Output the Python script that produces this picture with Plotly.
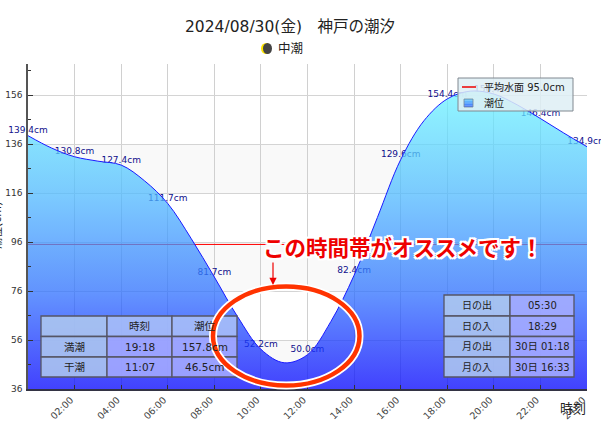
import plotly.graph_objects as go

title_text = "2024/08/30(金)　神戸の潮汐"
tide_name = "中潮"
hours = list(range(25))
tide = [139.4, 134.4, 130.8, 129.0, 127.4, 121.0, 111.7, 97.5, 81.7, 65.5, 52.2, 46.7, 50.0,
        63.5, 82.4, 106.0, 129.6, 145.5, 154.4, 157.6, 156.4, 152.0, 146.4, 140.5, 134.9]
label_hours = [0, 2, 4, 6, 8, 10, 12, 14, 16, 18, 20, 22, 24]
label_values = [139.4, 130.8, 127.4, 111.7, 81.7, 52.2, 50.0, 82.4, 129.6, 154.4, 156.4, 146.4, 134.9]
tick_hours = [2, 4, 6, 8, 10, 12, 14, 16, 18, 20, 22, 24]
tick_labels = ["02:00", "04:00", "06:00", "08:00", "10:00", "12:00", "14:00", "16:00", "18:00", "20:00", "22:00", "24:00"]
mean_level = 95.0
tide_table = [["", "時刻", "潮位"], ["満潮", "19:18", "157.8cm"], ["干潮", "11:07", "46.5cm"]]
sun_moon_table = [["日の出", "05:30"], ["日の入", "18:29"], ["月の出", "30日 01:18"], ["月の入", "30日 16:33"]]
band_ranges = [(116, 136), (76, 96), (36, 56)]
swatch_colors = ["#66c8ff", "#5cb4ff", "#52a0ff", "#4a8cff", "#4478ff"]

W, H = 601, 427
L, R, T, B = 28, 587, 64, 389
FONT = "DejaVu Sans, Noto Sans CJK JP, sans-serif"
def px(x): return (x - L) / (R - L)
def py(y): return (B - y) / (B - T)

shapes, annos = [], []
for lo, hi in band_ranges:
    shapes.append(dict(type="rect", xref="x", yref="y", x0=0, x1=24, y0=lo, y1=hi,
                       fillcolor="#f9f9f9", line_width=0, layer="below"))

def pxrect(x0, x1, y0, y1, fill, line="#555566", w=1.3, kind="rect"):
    shapes.append(dict(type=kind, xref="paper", yref="paper", x0=px(x0), x1=px(x1), y0=py(y1), y1=py(y0),
                       fillcolor=fill, line=dict(color=line, width=w), layer="above"))

def text(x, y, s, size=11, color="#222222", anchor="center", **kw):
    annos.append(dict(xref="paper", yref="paper", x=px(x), y=py(y), text=s, showarrow=False,
                      font=dict(size=size, color=color, family=FONT), xanchor=anchor, yanchor="middle", **kw))

def table(rows, xs, ys, size, header):
    for r, row in enumerate(rows):
        for c, s in enumerate(row):
            if c == 0:
                fill = "rgba(176,202,238,0.85)"
            elif header and r == 0:
                fill = "rgba(172,194,248,0.85)"
            else:
                fill = "rgba(168,174,255,0.85)"
            pxrect(xs[c], xs[c + 1], ys[r], ys[r + 1], fill)
            text((xs[c] + xs[c + 1]) / 2, (ys[r] + ys[r + 1]) / 2, s, size=size)

table(tide_table, [41, 107, 172, 237], [316, 336.5, 357, 377], 10.5, True)
table(sun_moon_table, [444, 510, 574], [295, 316, 336.5, 357, 377], 10, False)

# highlight ring and moon icon
pxrect(213, 359.5, 286.5, 385.5, "rgba(0,0,0,0)", "#ffffff", 8, "circle")
pxrect(213, 359.5, 286.5, 385.5, "rgba(0,0,0,0)", "#ff3300", 4.5, "circle")
pxrect(261, 271, 43, 54, "#ffe600", "#ffe600", 0, "circle")
pxrect(263, 272, 43, 54, "#444444", "#444444", 0, "circle")

# legend box
pxrect(458, 573, 78, 111, "rgba(222,238,244,0.85)", "#808890", 1)
shapes.append(dict(type="line", xref="paper", yref="paper", x0=px(462), x1=px(476), y0=py(87), y1=py(87),
                   line=dict(color="#ee0000", width=1.5), layer="above"))
for i, c in enumerate(swatch_colors):
    pxrect(464, 473, 99 + i * 1.6, 99 + (i + 1) * 1.6, c, c, 0)
pxrect(464, 473, 99, 107, "rgba(0,0,0,0)", "#778899", 0.8)
text(482, 87, f"平均水面 {mean_level:.1f}cm", size=10, anchor="left")
text(482, 103, "潮位", size=10, anchor="left")

text(290, 27, title_text, size=15.5)
text(290, 48, tide_name, size=12.5)
text(573, 408, "時刻", size=13)
text(-3, 226, "潮位(cm)", size=11, textangle=-90)

outline = ",".join(f"{a}px {b}px 0 #fff" for a in (-2, 0, 2) for b in (-2, 0, 2))
annos.append(dict(xref="paper", yref="paper", x=px(403), y=py(246), text="<b>この時間帯がオススメです！</b>",
                  showarrow=False, xanchor="center", yanchor="middle",
                  font=dict(size=21.5, color="#ee0000", family="Noto Sans CJK JP", shadow=outline)))
annos.append(dict(xref="paper", yref="paper", x=px(273), y=py(285), ax=0, ay=-24, text="", showarrow=True,
                  arrowhead=2, arrowsize=1.2, arrowwidth=1.2, arrowcolor="#ee0000"))

fig = go.Figure()
fig.add_trace(go.Scatter(x=[0, 24], y=[mean_level, mean_level], mode="lines", name=f"平均水面 {mean_level:.1f}cm",
                         line=dict(color="#ff0000", width=1), showlegend=False))
fig.add_trace(go.Scatter(x=label_hours, y=label_values, mode="text", showlegend=False,
                         text=[f"{v:.1f}cm" for v in label_values], textposition="top center", cliponaxis=False,
                         textfont=dict(size=9, color="#10108c", family=FONT)))
fig.add_trace(go.Scatter(x=hours, y=tide, mode="lines", name="潮位", showlegend=False,
                         line=dict(color="#1a1aff", width=1, shape="spline"),
                         fill="tozeroy",
                         fillgradient=dict(type="vertical", start=36, stop=158,
                                           colorscale=[[0, "rgba(5,5,255,0.75)"], [0.33, "rgba(48,115,255,0.75)"],
                                                       [0.66, "rgba(81,188,255,0.75)"], [1, "rgba(108,245,255,0.75)"]])))

fig.update_layout(
    width=W, height=H, autosize=False, paper_bgcolor="#ffffff", plot_bgcolor="#ffffff",
    margin=dict(l=L, r=W - R, t=T, b=H - B), font=dict(family=FONT, size=10, color="#333333"),
    shapes=shapes, annotations=annos, showlegend=False,
    xaxis=dict(range=[0, 24], automargin=False, tickvals=tick_hours, ticktext=tick_labels, tickangle=-45,
               ticks="inside", ticklen=4, tickcolor="#333333", showgrid=True, gridcolor="#d0d0d0", gridwidth=1.3,
               showline=True, linecolor="#333344", linewidth=1.5, zeroline=False, ticklabelshift=-4,
               tickfont=dict(size=9.5, color="#444444")),
    yaxis=dict(range=[36, 36 + (B - T) / 2.45], automargin=False, tick0=36, dtick=20, ticks="inside", ticklen=5,
               tickcolor="#333333",
               minor=dict(dtick=10, tick0=36, ticks="inside", ticklen=3, tickcolor="#333333", showgrid=False),
               showgrid=True, gridcolor="#d4d4d4", gridwidth=1, showline=True, linecolor="#555555", linewidth=1.5,
               zeroline=False, ticklabelstandoff=2, tickfont=dict(size=9, color="#333333")),
)
fig.write_html("out.html", config={"displayModeBar": False}, post_script="document.body.style.margin='0';")
